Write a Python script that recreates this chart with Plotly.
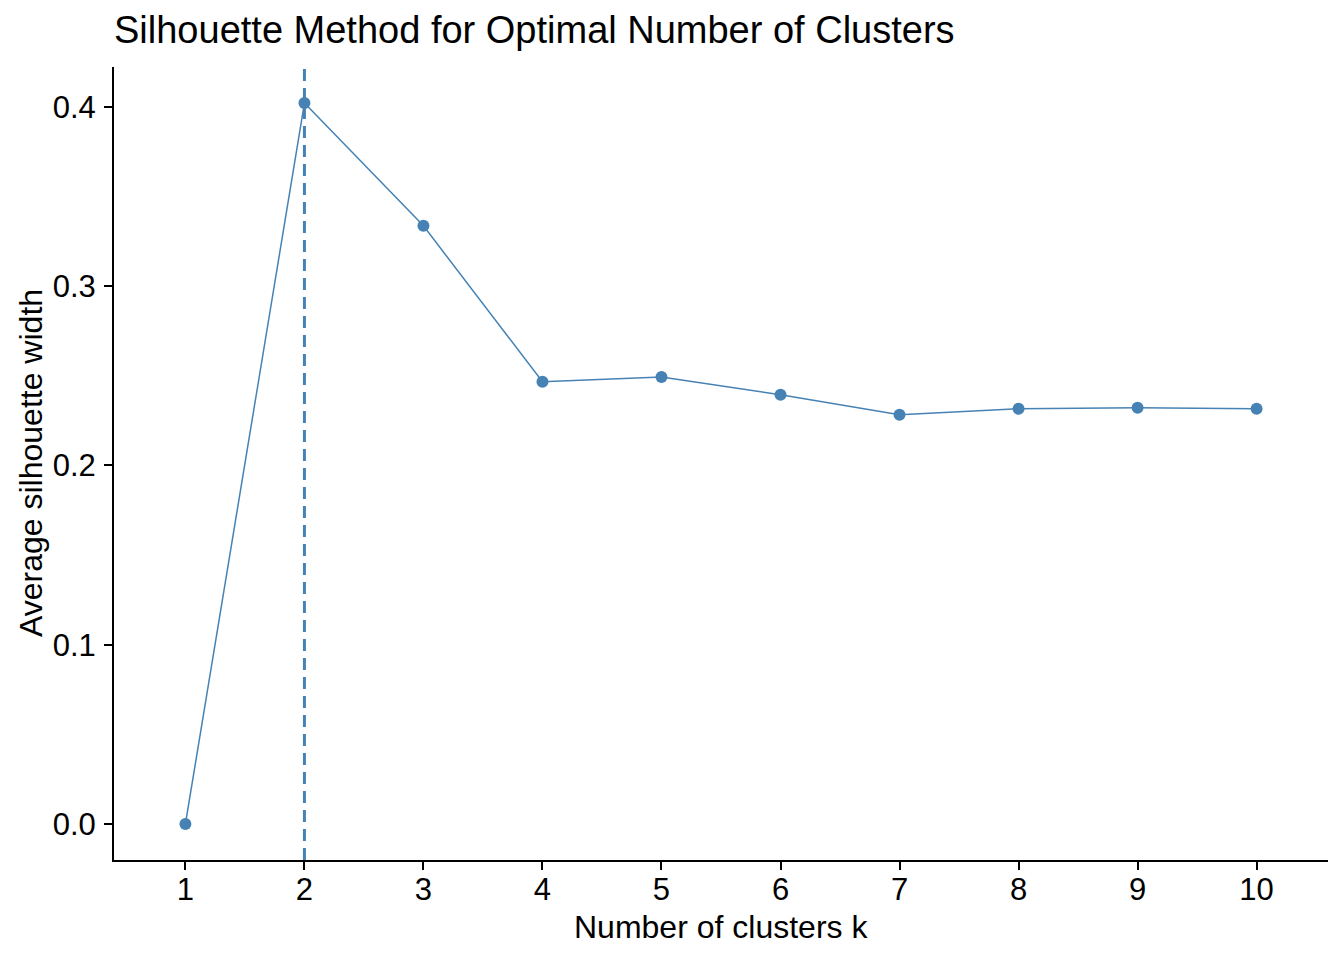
import plotly.graph_objects as go

k_values = [1, 2, 3, 4, 5, 6, 7, 8, 9, 10]
silhouette = [0.0, 0.4022, 0.3337, 0.2467, 0.2494, 0.2394, 0.2283, 0.2316, 0.2322, 0.2316]
optimal_k = 2
y_ticks = [0.0, 0.1, 0.2, 0.3, 0.4]

title_text = "Silhouette Method for Optimal Number of Clusters"
x_title = "Number of clusters k"
y_title = "Average silhouette width"

color = "#4682B4"
font_family = "Liberation Sans, Arial, sans-serif"

W, H = 1336, 952
ML, MR, MT, MB = 105.5, 16.4, 58.7, 99.7
PW = W - ML - MR
PH = H - MT - MB

fig = go.Figure()
fig.add_trace(go.Scatter(
    x=k_values, y=silhouette, mode="lines+markers",
    line=dict(color=color, width=1.5),
    marker=dict(color=color, size=12),
    showlegend=False, hoverinfo="skip",
))

fig.add_shape(type="line", xref="x", yref="paper",
              x0=optimal_k, x1=optimal_k, y0=0, y1=1,
              line=dict(color=color, width=3, dash="12px,7px"),
              layer="above")

ymin = min(silhouette)
ymax = max(silhouette)
pad = (ymax - ymin) * 0.05

fig.update_layout(
    width=W, height=H,
    margin=dict(l=ML, r=MR, t=MT, b=MB, autoexpand=False),
    paper_bgcolor="white", plot_bgcolor="white",
    font=dict(family=font_family, color="black", size=31),
    title=dict(text=title_text, x=0, xref="paper", xanchor="left",
               y=1 - 22.0 / H, yref="container", yanchor="middle",
               font=dict(size=38, color="black", family=font_family)),
    xaxis=dict(range=[0.4, 10.6], tickmode="array", tickvals=k_values,
               ticktext=[str(k) for k in k_values],
               showline=True, linecolor="black", linewidth=2,
               ticks="outside", ticklen=8, tickwidth=2, tickcolor="black",
               ticklabelstandoff=-7,
               showgrid=False, zeroline=False,
               tickfont=dict(size=31, color="black")),
    yaxis=dict(range=[ymin - pad, ymax + pad], tickmode="array", tickvals=y_ticks,
               ticktext=[f"{v:.1f}" for v in y_ticks],
               showline=True, linecolor="black", linewidth=2,
               ticks="outside", ticklen=8, tickwidth=2, tickcolor="black",
               ticklabelstandoff=2,
               showgrid=False, zeroline=False,
               tickfont=dict(size=31, color="black")),
    annotations=[
        dict(text=x_title, xref="paper", yref="paper", x=0.5, y=-66.7 / PH,
             xanchor="center", yanchor="middle", showarrow=False,
             font=dict(size=32, color="black", family=font_family)),
        dict(text=y_title, xref="paper", yref="paper", x=-83.5 / PW, y=0.5,
             xanchor="center", yanchor="middle", showarrow=False, textangle=-90,
             font=dict(size=32, color="black", family=font_family)),
    ],
)

fig.write_html("out.html")
